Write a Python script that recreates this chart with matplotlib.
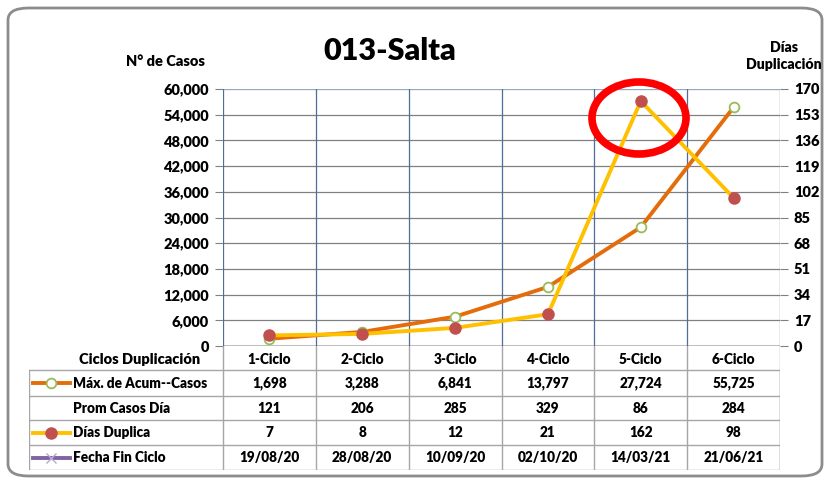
import matplotlib.pyplot as plt
from matplotlib.patches import Ellipse, FancyBboxPatch
from matplotlib.ticker import FuncFormatter
from matplotlib.lines import Line2D

plt.rcParams['font.family'] = ['Lato', 'DejaVu Sans']
plt.rcParams['font.weight'] = 'heavy'

# datos
ciclos = ['1-Ciclo', '2-Ciclo', '3-Ciclo', '4-Ciclo', '5-Ciclo', '6-Ciclo']
max_casos = [1698, 3288, 6841, 13797, 27724, 55725]
prom_casos = [121, 206, 285, 329, 86, 284]
dias_duplica = [7, 8, 12, 21, 162, 98]
fecha_fin = ['19/08/20', '28/08/20', '10/09/20', '02/10/20', '14/03/21', '21/06/21']
ticks_izq = list(range(0, 60001, 6000))
ticks_der = list(range(0, 171, 17))

W, H = 825, 482
fig = plt.figure(figsize=(W / 100, H / 100), dpi=100)

def fx(px):
    return px / W

def fy(py):
    return 1 - py / H

# marco redondeado
frame = FancyBboxPatch((fx(8), fy(476)), fx(814), fy(8) - fy(476),
                       boxstyle='round,pad=0,rounding_size=0.025',
                       transform=fig.transFigure, fill=False,
                       edgecolor='#8C8C8C', linewidth=2)
fig.add_artist(frame)

L, R, T, B = 223, 780, 89, 346
ax = fig.add_axes([fx(L), fy(B), fx(R) - fx(L), fy(T) - fy(B)])
ax2 = ax.twinx()

n = len(ciclos)
x = list(range(n))

ax.plot(x, max_casos, color='#E46C0A', linewidth=2.8, marker='o', markersize=7,
        markerfacecolor='white', markeredgecolor='#9BBB59', markeredgewidth=1.3,
        zorder=3)
ax2.plot(x, dias_duplica, color='#FFC000', linewidth=2.8, marker='o', markersize=8,
         markerfacecolor='#C0504D', markeredgecolor='#C0504D', zorder=3)

ax.set_xlim(-0.5, n - 0.5)
ax.set_ylim(0, 60000)
ax2.set_ylim(0, 170)
ax.set_yticks(ticks_izq)
ax2.set_yticks(ticks_der)
ax.yaxis.set_major_formatter(FuncFormatter(lambda v, p: f'{int(v):,}'))
ax.set_xticks([])

for a in (ax, ax2):
    for s in a.spines.values():
        s.set_visible(False)
    a.tick_params(axis='y', length=6, color='#808080', labelsize=10.5, pad=4)

ax.yaxis.grid(True, color='#808080', linewidth=0.9)
ax.set_axisbelow(True)
ax.axhline(0, color='#BFBFBF', linewidth=2.2, zorder=1)
ax.axhline(60000, color='#95B3D7', linewidth=1.2, zorder=1)
for i in range(n + 1):
    ax.axvline(i - 0.5, color='#4F6D99', linewidth=0.9, zorder=1)

# textos
fig.text(fx(390), fy(51), '013-Salta', fontsize=22, fontweight='heavy',
         ha='center', va='center')
fig.text(fx(165), fy(61), 'N° de Casos', fontsize=10.5,
         ha='center', va='center')
fig.text(fx(784), fy(56), 'Días\nDuplicación', fontsize=10.2,
         ha='center', va='center', linespacing=1.4)

# elipse roja
fig.add_artist(Ellipse((fx(639), fy(118)), fx(94), 72 / H, transform=fig.transFigure,
                       fill=False, edgecolor='#FF0000', linewidth=5.5))

# tabla
TL, TT, TB = 29, 346, 470
tab = fig.add_axes([fx(TL), fy(TB), fx(R) - fx(TL), fy(TT) - fy(TB)])
tab.set_xlim(TL, R)
tab.set_ylim(TB, TT)
tab.axis('off')

col_w = (R - L) / n
row_y = [370, 396, 420, 445, 470]
line_c = '#A6A6A6'
for yy in row_y:
    tab.plot([TL, R], [yy, yy], color=line_c, linewidth=1)
tab.plot([TL, TL], [row_y[0], row_y[-1]], color=line_c, linewidth=1)
tab.plot([R, R], [row_y[0], row_y[-1]], color=line_c, linewidth=1)
for i in range(n + 1):
    xx = L + i * col_w
    tab.plot([xx, xx], [TT, TB], color=line_c, linewidth=1)

fs = 9.8
tab.text(140, 359, 'Ciclos Duplicación', fontsize=10.5, ha='center', va='center')
for i, c in enumerate(ciclos):
    tab.text(L + (i + 0.5) * col_w, 359, c, fontsize=fs, ha='center', va='center')

filas = [
    ('Máx. de Acum--Casos', [f'{v:,}' for v in max_casos]),
    ('Prom Casos Día', [str(v) for v in prom_casos]),
    ('Días Duplica', [str(v) for v in dias_duplica]),
    ('Fecha Fin Ciclo', fecha_fin),
]
for r, (lab, vals) in enumerate(filas):
    yc = (row_y[r] + row_y[r + 1]) / 2
    tab.text(73, yc, lab, fontsize=fs, ha='left', va='center')
    for i, v in enumerate(vals):
        tab.text(L + (i + 0.5) * col_w, yc, v, fontsize=fs, ha='center', va='center')

# claves de la leyenda
def clave(r, color, **kw):
    yc = (row_y[r] + row_y[r + 1]) / 2
    tab.add_line(Line2D([33, 70], [yc, yc], color=color, linewidth=2.8))
    tab.add_line(Line2D([51.5], [yc], linestyle='none', **kw))

clave(0, '#E46C0A', marker='o', markersize=7, markerfacecolor='white',
      markeredgecolor='#9BBB59', markeredgewidth=1.3)
clave(2, '#FFC000', marker='o', markersize=8, markerfacecolor='#C0504D',
      markeredgecolor='#C0504D')
clave(3, '#8064A2', marker='x', markersize=7, markeredgecolor='#B9A6D0',
      markeredgewidth=1)

fig.savefig('out.png', dpi=100)
